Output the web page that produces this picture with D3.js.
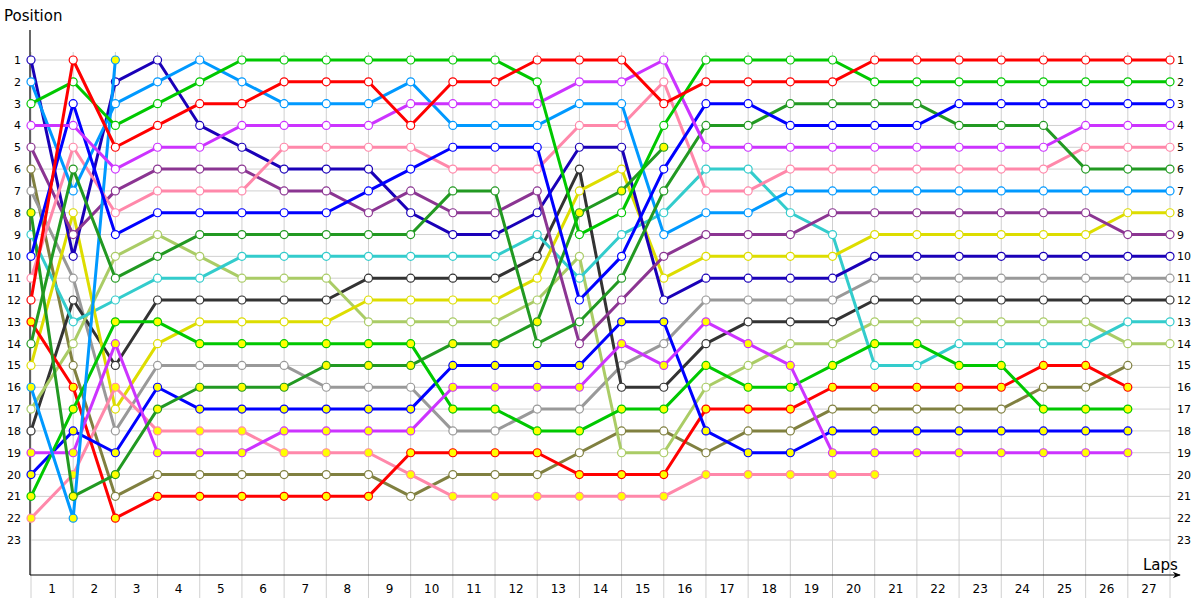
<!DOCTYPE html>
<html><head><meta charset="utf-8">
<script src="https://cdn.jsdelivr.net/npm/d3@7"></script>
<style>body{margin:0;background:#fff;} svg{display:block;font-family:"DejaVu Sans",Verdana,sans-serif;}</style>
</head><body><svg id="c" width="1200" height="600"></svg>
<script>
// ---- data: position after each lap (index 0 = grid/start) ----
const laps = d3.range(1, 28);
const positionTicks = d3.range(1, 24);

const R1  = [12,1,5,4,3,3,2,2,2,4,2,2,1,1,1,3,2,2,2,2,1,1,1,1,1,1,1,1];
const G1  = [3,2,4,3,2,1,1,1,1,1,1,1,2,9,8,4,1,1,1,1,2,2,2,2,2,2,2,2];
const B1  = [10,3,9,8,8,8,8,8,7,6,5,5,5,12,10,6,3,3,4,4,4,4,3,3,3,3,3,3];
const N1  = [1,10,2,1,4,5,6,6,6,8,9,9,8,5,5,12,11,11,11,11,10,10,10,10,10,10,10,10];
const LB1 = [2,7,3,2,1,2,3,3,3,2,4,4,4,3,3,9,8,8,7,7,7,7,7,7,7,7,7,7];
const P1  = [4,4,6,5,5,4,4,4,4,3,3,3,3,2,2,1,5,5,5,5,5,5,5,5,5,4,4,4];
const DP1 = [5,9,7,6,6,6,7,7,8,7,8,8,7,14,12,10,9,9,9,8,8,8,8,8,8,8,9,9];
const O1  = [6,15,21,20,20,20,20,20,20,21,20,20,20,19,18,18,19,18,18,17,17,17,17,17,16,16,15];
const GR1 = [7,11,18,15,15,15,15,16,16,16,18,18,17,17,15,14,12,12,12,12,11,11,11,11,11,11,11,11];
const C1  = [9,13,12,11,11,10,10,10,10,10,10,10,9,11,9,8,6,6,8,9,15,15,14,14,14,14,13,13];
const PK1 = [11,5,8,7,7,7,5,5,5,5,6,6,6,4,4,2,7,7,6,6,6,6,6,6,6,5,5,5];
const DG1 = [14,6,11,10,9,9,9,9,9,9,7,7,14,13,11,7,4,4,3,3,3,3,4,4,4,6,6,6];
const LO1 = [17,14,10,9,10,11,11,11,13,13,13,13,12,10,19,19,16,15,14,14,13,13,13,13,13,13,14,14];
const DK1 = [18,12,15,12,12,12,12,12,11,11,11,11,10,6,16,16,14,13,13,13,12,12,12,12,12,12,12,12];
const Y1  = [15,8,17,14,13,13,13,13,12,12,12,12,11,7,6,11,10,10,10,10,9,9,9,9,9,9,8,8];
const R2  = [13,16,22,21,21,21,21,21,21,19,19,19,19,20,20,20,17,17,17,16,16,16,16,16,15,15,16];
const G2  = [21,17,13,13,14,14,14,14,14,14,17,17,18,18,17,17,15,16,16,15,14,14,15,15,17,17,17];
const B2  = [20,18,19,16,17,17,17,17,17,17,15,15,15,15,13,13,18,19,19,18,18,18,18,18,18,18,18];
const P2  = [19,19,14,19,19,19,18,18,18,18,16,16,16,16,14,15,13,14,15,19,19,19,19,19,19,19,19];
const PK2 = [22,20,16,18,18,18,19,19,19,20,21,21,21,21,21,21,20,20,20,20,20];
const LB2 = [16,22,1];
const DG2 = [8,21,20,17,16,16,16,15,15,15,14,14,13,8,7,5];

const seriesData  = [O1, GR1, DK1, LO1, C1, Y1, N1, DP1, PK2, R2, B2, G2, P2, LB2, DG2, PK1, LB1, DG1, B1, P1, G1, R1];
const seriesColor = ["#808040","#999999","#333333","#aacc66","#33cccc","#dddd00","#1a00b8","#8b3592","#ff88aa","#ff0000","#0000ff","#00c800","#cc33ff","#0099ff","#229922","#ff88aa","#0099ff","#229922","#0000ff","#cc33ff","#00c800","#ff0000"];
const seriesFill  = ["#fff","#fff","#fff","#fff","#fff","#fff","#fff","#fff","#ffff00","#ffff00","#ffff00","#ffff00","#ffff00","#ffff00","#ffff00","#fff","#fff","#fff","#fff","#fff","#fff","#fff"];

// ---- layout ----
const svg = d3.select("#c");
const x = d3.scaleLinear().domain([0, 27]).range([31, 1170]);
const y = d3.scaleLinear().domain([1, 23]).range([60, 540]);
const xb = d3.scaleBand().domain(laps).range([31, 1170]);

// grid
svg.append("g").selectAll("line").data(positionTicks).join("line")
  .attr("x1", 30).attr("x2", 1170).attr("y1", d => y(d)).attr("y2", d => y(d))
  .attr("stroke", "#d0d0d0").attr("stroke-width", 1);
svg.append("g").selectAll("line").data(d3.range(0, 28)).join("line")
  .attr("x1", d => x(d)).attr("x2", d => x(d)).attr("y1", 52).attr("y2", 598)
  .attr("stroke", "#d0d0d0").attr("stroke-width", 1);

// axes labels
const yl = svg.append("g").attr("transform", "translate(21,0)")
  .call(d3.axisLeft(y).tickValues(positionTicks).tickSize(0).tickPadding(0));
const yr = svg.append("g").attr("transform", "translate(1177,0)")
  .call(d3.axisRight(y).tickValues(positionTicks).tickSize(0).tickPadding(0));
const xl = svg.append("g").attr("transform", "translate(0,584)")
  .call(d3.axisBottom(xb).tickSize(0).tickPadding(0));
[yl, yr, xl].forEach(g => {
  g.select(".domain").remove();
  g.selectAll("text").attr("font-size", 11).attr("fill", "#000").attr("font-family", "DejaVu Sans, Verdana, sans-serif");
});
xl.selectAll("text").attr("font-size", 12);

// axis lines
svg.append("defs").append("marker").attr("id", "arr").attr("viewBox", "0 0 10 10")
  .attr("refX", 9).attr("refY", 5).attr("markerWidth", 10).attr("markerHeight", 8).attr("orient", "auto")
  .attr("markerUnits", "userSpaceOnUse")
  .append("path").attr("d", "M0,1 L10,5 L0,9 L3,5 Z").attr("fill", "#000");
svg.append("line").attr("x1", 30).attr("x2", 30).attr("y1", 30).attr("y2", 575).attr("stroke", "#000").attr("stroke-width", 1.2);
svg.append("line").attr("x1", 30).attr("x2", 1180).attr("y1", 575).attr("y2", 575).attr("stroke", "#000").attr("stroke-width", 1.2)
  .attr("marker-end", "url(#arr)");

svg.append("text").attr("x", 4).attr("y", 21).attr("font-size", 15).text("Position");
svg.append("text").attr("x", 1143).attr("y", 570).attr("font-size", 15).text("Laps");

// series
const line = d3.line().x((d, i) => x(i)).y(d => y(d));
seriesData.forEach((s, k) => {
  const g = svg.append("g");
  g.append("path").attr("d", line(s)).attr("fill", "none")
    .attr("stroke", seriesColor[k]).attr("stroke-width", 3).attr("stroke-linejoin", "round");
  g.selectAll("circle").data(s).join("circle")
    .attr("cx", (d, i) => x(i)).attr("cy", d => y(d)).attr("r", 4)
    .attr("fill", seriesFill[k]).attr("stroke", seriesColor[k]).attr("stroke-width", 1.2);
});
</script></body></html>
